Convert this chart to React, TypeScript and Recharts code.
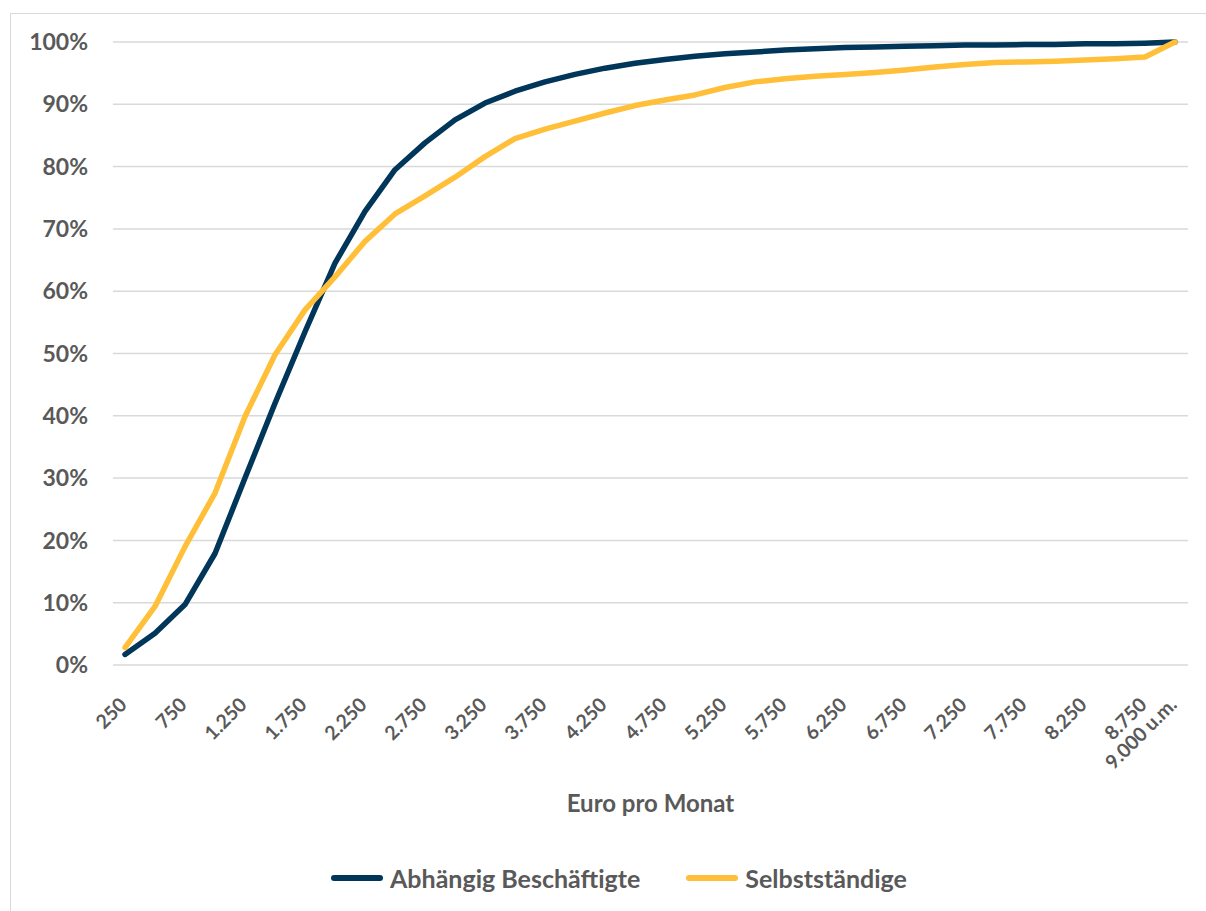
import { LineChart, Line, XAxis, YAxis, CartesianGrid, Legend, Label } from "recharts";

// Einkommensklassen (Euro pro Monat)
const incomeLevels = [
  "250", "500", "750", "1.000", "1.250", "1.500", "1.750", "2.000", "2.250",
  "2.500", "2.750", "3.000", "3.250", "3.500", "3.750", "4.000", "4.250", "4.500",
  "4.750", "5.000", "5.250", "5.500", "5.750", "6.000", "6.250", "6.500", "6.750",
  "7.000", "7.250", "7.500", "7.750", "8.000", "8.250", "8.500", "8.750", "9.000 u.m.",
];

// nur jede zweite Klasse wird beschriftet (plus die letzte)
const shownLabels = [
  "250", "750", "1.250", "1.750", "2.250", "2.750", "3.250", "3.750", "4.250",
  "4.750", "5.250", "5.750", "6.250", "6.750", "7.250", "7.750", "8.250", "8.750",
  "9.000 u.m.",
];

// kumulierte Anteile in %
const abhaengig = [
  1.7, 5.1, 9.7, 17.9, 30.0, 42.0, 53.5, 64.5, 72.8, 79.5, 83.8, 87.5, 90.2, 92.1,
  93.6, 94.8, 95.8, 96.6, 97.2, 97.7, 98.1, 98.4, 98.7, 98.9, 99.1, 99.2, 99.3, 99.4,
  99.5, 99.5, 99.6, 99.6, 99.7, 99.7, 99.8, 100,
];
const selbststaendig = [
  2.8, 9.4, 19.0, 27.6, 39.9, 49.8, 57.0, 62.3, 68.0, 72.4, 75.3, 78.3, 81.6, 84.5,
  86.0, 87.3, 88.6, 89.8, 90.7, 91.5, 92.7, 93.6, 94.1, 94.5, 94.8, 95.1, 95.5, 96.0,
  96.4, 96.7, 96.8, 96.9, 97.1, 97.3, 97.6, 100,
];

const yTicks = [0, 10, 20, 30, 40, 50, 60, 70, 80, 90, 100];

const data = incomeLevels.map((income, i) => ({
  income,
  abh: abhaengig[i],
  selb: selbststaendig[i],
}));

const GREY = "#595959";
const NAVY = "#003659";
const YELLOW = "#FFBF38";

const IncomeTick = (props: any) => {
  const { x, y, payload } = props;
  if (!shownLabels.includes(payload.value)) return <g />;
  return (
    <g transform={`translate(${x + 3},${y + 41}) rotate(-45)`}>
      <text
        x={0}
        y={0}
        textAnchor="end"
        fill={GREY}
        fontSize={19.5}
        fontWeight={700}
        fontFamily="Lato"
      >
        {payload.value}
      </text>
    </g>
  );
};

const LegendContent = (props: any) => {
  const { payload } = props;
  return (
    <div style={{ display: "flex", justifyContent: "center", alignItems: "center", height: 30 }}>
      {(payload || []).map((entry: any, i: number) => (
        <div
          key={entry.value}
          style={{ display: "flex", alignItems: "center", marginLeft: i === 0 ? 0 : 46 }}
        >
          <span
            style={{
              display: "inline-block",
              width: 52,
              height: 6,
              borderRadius: 3,
              background: entry.color,
              marginRight: 7,
            }}
          />
          <span style={{ color: GREY, fontSize: 25, fontWeight: 700, fontFamily: "Lato" }}>
            {entry.value}
          </span>
        </div>
      ))}
    </div>
  );
};

const App = () => {
  return (
    <div
      style={{
        position: "absolute",
        left: 0,
        top: 0,
        width: 1206,
        height: 911,
        overflow: "hidden",
        background: "#fff",
        fontFamily: "Lato",
      }}
    >
      <div
        style={{
          position: "absolute",
          left: 10,
          top: 13,
          width: 1300,
          height: 1000,
          border: "1.5px solid #d9d9d9",
        }}
      />
      <div style={{ position: "absolute", left: 0, top: 0 }}>
        <LineChart
          width={1206}
          height={911}
          data={data}
          margin={{ top: 42, right: 18, left: 0, bottom: 66 }}
        >
          <CartesianGrid vertical={false} stroke="#d9d9d9" strokeWidth={1.5} />
          <XAxis
            dataKey="income"
            interval={0}
            axisLine={false}
            tickLine={false}
            tickSize={0}
            tickMargin={0}
            height={150}
            padding={{ left: 12, right: 13 }}
            tick={<IncomeTick />}
          >
            <Label
              value="Euro pro Monat"
              position="insideBottom"
              offset={3}
              style={{ fill: GREY, fontSize: 24, fontWeight: 700, fontFamily: "Lato" }}
            />
          </XAxis>
          <YAxis
            width={113}
            domain={[0, 100]}
            ticks={yTicks}
            tickFormatter={(v: number) => `${v}%`}
            axisLine={false}
            tickLine={false}
            tickSize={0}
            tickMargin={25}
            tick={{ fill: GREY, fontSize: 23, fontWeight: 700, fontFamily: "Lato" }}
          />
          <Legend
            verticalAlign="bottom"
            content={<LegendContent />}
            wrapperStyle={{ left: 0, top: 863, width: 1238, height: 30 }}
          />
          <Line
            type="linear"
            dataKey="abh"
            name="Abhängig Beschäftigte"
            stroke={NAVY}
            strokeWidth={5.5}
            strokeLinecap="round"
            strokeLinejoin="round"
            dot={false}
            activeDot={false}
            isAnimationActive={false}
          />
          <Line
            type="linear"
            dataKey="selb"
            name="Selbstständige"
            stroke={YELLOW}
            strokeWidth={5.5}
            strokeLinecap="round"
            strokeLinejoin="round"
            dot={false}
            activeDot={false}
            isAnimationActive={false}
          />
        </LineChart>
      </div>
    </div>
  );
};

export default App;
